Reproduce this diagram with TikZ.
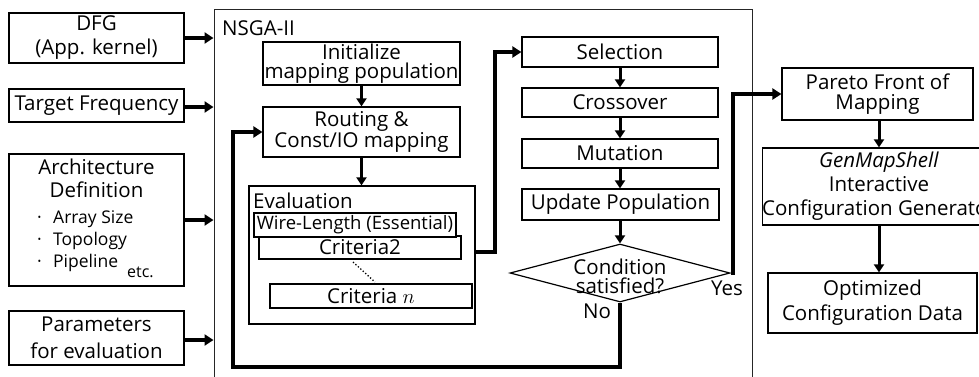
\documentclass[tikz,border=0pt]{standalone}
\usepackage{fontspec}
\setmainfont{Open Sans}
\usetikzlibrary{arrows.meta,shapes.geometric,calc}
\begin{document}
\begin{tikzpicture}[x=1pt,y=-1pt,
  fs/.style 2 args={font=\fontsize{#1}{#2}\selectfont},
  box/.style={draw, line width=1.2pt, fill=white, inner sep=0pt, align=center, fs={20.5}{22}},
  txt/.style={inner sep=0pt, fs={20.5}{22}},
  arr/.style={line width=4pt, -{Triangle[length=9pt,width=11pt]}},
  sarr/.style={line width=3pt, -{Triangle[length=8pt,width=10pt]}}
]
\useasboundingbox (0,0) rectangle (979,376);

% outer NSGA-II frame
\node[draw=black!85, line width=1pt, minimum width=538pt, minimum height=369pt, inner sep=0pt] (nsga) at (483,193.5) {};
\node[txt, anchor=base west] (nsgalbl) at (222,35) {NSGA-II};

% inputs
\node[box, minimum width=175pt, minimum height=50pt, fs={20.5}{24}] (dfg) at (96.5,38) {DFG\\(App. kernel)};
\node[box, minimum width=175pt, minimum height=33pt] (tf) at (96.5,105.5) {Target Frequency};
\node[box, minimum width=175pt, minimum height=132pt] (arch) at (96.5,220) {};
\node[txt, anchor=base] (archa) at (96.5,174) {Architecture};
\node[txt, anchor=base] (archb) at (96.5,197) {Definition};
\node[txt, anchor=base west, fs={17.5}{18}] (archc) at (37,223) {\makebox[16pt][l]{·}Array Size};
\node[txt, anchor=base west, fs={17.5}{18}] (archd) at (37,245) {\makebox[16pt][l]{·}Topology};
\node[txt, anchor=base west, fs={17.5}{18}] (arche) at (37,267) {\makebox[16pt][l]{·}Pipeline};
\node[txt, anchor=base west, fs={16}{18}] (archf) at (127,277) {etc.};
\node[box, minimum width=175pt, minimum height=54pt, fs={20.5}{27}] (par) at (96.5,338) {Parameters\\for evaluation};

% left column inside
\node[box, minimum width=197pt, minimum height=43pt, fs={20.5}{19}] (init) at (361.5,63.5) {Initialize\\mapping population};
\node[box, minimum width=197pt, minimum height=50pt, fs={20.5}{20.5}] (rout) at (361.5,132) {Routing \&\\Const/IO mapping};
\node[box, minimum width=226pt, minimum height=138pt] (eval) at (362,255) {};
\node[txt, anchor=base west] (evallbl) at (253,208) {Evaluation};
\node[box, minimum width=202pt, minimum height=23pt] (crit2) at (360,247.5) {Criteria2};
\node[box, minimum width=202pt, minimum height=24pt, fs={18.5}{20}] (wire) at (355,225) {Wire-Length (Essential)};
\node[box, minimum width=202pt, minimum height=24pt] (critn) at (371,296) {Criteria $n$};
\coordinate (d1) at (353,262);
\coordinate (d2) at (375,282);
\draw[dotted, line width=1.3pt] (d1) -- (d2);

% right column inside
\node[box, minimum width=196pt, minimum height=30pt] (sel) at (620,52) {Selection};
\node[box, minimum width=196pt, minimum height=29pt] (cross) at (620,102.5) {Crossover};
\node[box, minimum width=196pt, minimum height=29pt] (mut) at (620,153.5) {Mutation};
\node[box, minimum width=197pt, minimum height=31pt] (upd) at (620.5,204.5) {Update Population};
\node[diamond, draw, line width=1.2pt, minimum width=220pt, minimum height=58pt, inner sep=0pt] (cond) at (620,273) {};
\node[txt, align=center, fs={20.5}{19}] (condt) at (620,276) {Condition\\satisfied?};
\node[txt, anchor=base] (yes) at (727,295) {Yes};
\node[txt, anchor=base] (no) at (597,318) {No};

% outputs
\node[box, minimum width=191pt, minimum height=52pt, fs={20.5}{20}] (par2) at (877.5,94) {Pareto Front of\\Mapping};
\node[box, minimum width=226pt, minimum height=77pt, fs={20.5}{24}] (gms) at (879,186.5) {\textit{GenMapShell}\\Interactive\\Configuration Generator};
\node[box, minimum width=209pt, minimum height=60pt, fs={20.5}{25}] (opt) at (872.5,303) {Optimized\\Configuration Data};

% connectors
\draw[arr] (dfg.east) -- (dfg.east -| nsga.west);
\draw[arr] ([yshift=-1.5pt]tf.east) -- ([yshift=-1.5pt]tf.east -| nsga.west);
\draw[arr] (arch.east) -- (arch.east -| nsga.west);
\draw[arr] ([yshift=-2pt]par.east) -- ([yshift=-2pt]par.east -| nsga.west);

\draw[sarr] (init.south) -- (rout.north);
\draw[sarr] (rout.south) -- (rout.south |- eval.north);
\draw[sarr] (sel.south) -- (sel.south |- cross.north);
\draw[sarr] (cross.south) -- (cross.south |- mut.north);
\draw[sarr] (mut.south) -- (mut.south |- upd.north);
\draw[sarr] (upd.south -| cond.north) -- (cond.north);

\coordinate (evx) at (495,52);
\draw[arr, line join=miter] ([yshift=3pt]eval.east) -| (evx) -- (sel.west);
\coordinate (loopbot) at (233,367);
\draw[arr, line join=miter] (cond.south) |- (loopbot) |- (rout.west);
\coordinate (yesx) at (733,94);
\draw[arr, line join=miter] (cond.east) -| (yesx) -- (par2.west);

\draw[sarr] (par2.south -| gms.north) -- (gms.north);
\draw[sarr] (gms.south) -- (gms.south |- opt.north);
\end{tikzpicture}
\end{document}
